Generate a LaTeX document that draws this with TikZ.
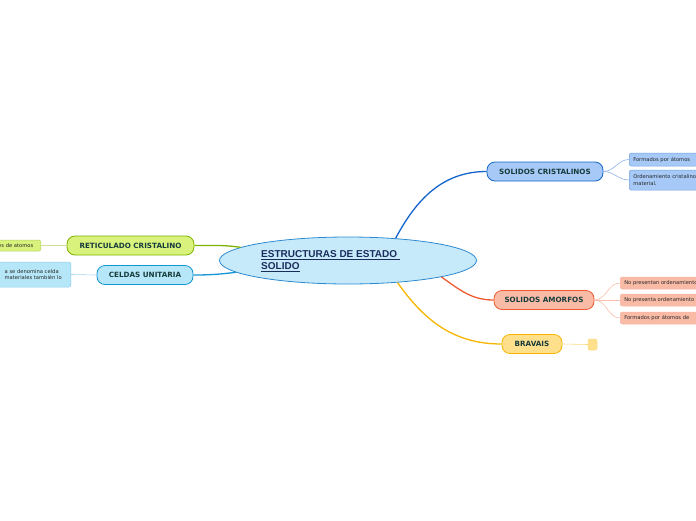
\documentclass[tikz,border=0pt]{standalone}
\usepackage{fontspec}
\setmainfont{DejaVu Sans}
\newfontfamily\rootfont{Liberation Sans}
\usepackage{tikz}
\usetikzlibrary{shapes.geometric}
\definecolor{rootfill}{HTML}{C6EAFA}
\definecolor{rootline}{HTML}{2C8AD2}
\definecolor{roottext}{HTML}{1B2B5C}
\definecolor{topictext}{HTML}{173C3C}
\definecolor{cristalfill}{HTML}{A6C9F7}
\definecolor{cristalline}{HTML}{1464CC}
\definecolor{amorfofill}{HTML}{F9BBA6}
\definecolor{amorfoline}{HTML}{F05A30}
\definecolor{bravaisfill}{HTML}{FDDF8C}
\definecolor{bravaisline}{HTML}{F6B500}
\definecolor{reticfill}{HTML}{D9F27C}
\definecolor{reticline}{HTML}{7CB200}
\definecolor{celdafill}{HTML}{B6E7F8}
\definecolor{celdaline}{HTML}{1496D4}

\tikzset{
  topic/.style={rectangle,rounded corners=8pt,minimum height=19pt,
    font=\fontsize{7.2}{8}\selectfont\bfseries,text=topictext,
    line width=0.8pt,inner sep=2pt},
  leaf/.style={rectangle,rounded corners=2pt,font=\fontsize{5.2}{6.2}\selectfont,
    text=black!85,align=left,inner sep=3pt,line width=0.5pt},
  branch/.style={line width=1.3pt},
  twig/.style={line width=0.6pt}
}

\begin{document}
\begin{tikzpicture}[x=1pt,y=-1pt]
  \clip (0,0) rectangle (696,520);
  % central idea
  \node[ellipse,draw=rootline,fill=rootfill,line width=0.8pt,
        minimum width=257pt,minimum height=47pt] (root) at (348,260.5) {};
  \node[anchor=north west,align=left,inner sep=0pt,text=roottext,
        font=\rootfont\fontsize{10}{12}\selectfont\bfseries] (rootlabel) at (261,250.5)
        {\underline{ESTRUCTURAS DE ESTADO\ }\\\underline{SOLIDO}};

  % main topics
  \node[topic,draw=cristalline,fill=cristalfill,minimum width=116pt] (cristal) at (545,171.5) {SOLIDOS CRISTALINOS};
  \node[topic,draw=amorfoline,fill=amorfofill,minimum width=100pt] (amorfo) at (544,300) {SOLIDOS AMORFOS};
  \node[topic,draw=bravaisline,fill=bravaisfill,minimum width=60pt] (bravais) at (532,344) {BRAVAIS};
  \node[topic,draw=reticline,fill=reticfill,minimum width=127pt] (retic) at (130.5,245.5) {RETICULADO CRISTALINO};
  \node[topic,draw=celdaline,fill=celdafill,minimum width=96pt] (celda) at (145,275) {CELDAS UNITARIA};

  % subtopics
  \node[leaf,anchor=west,draw=cristalline!60,fill=cristalfill,text width=84pt,minimum height=13pt,inner xsep=4pt] (cristalA) at (629,159.5) {Formados por átomos};
  \node[leaf,anchor=west,draw=cristalline!60,fill=cristalfill,text width=84pt,minimum height=20pt,inner xsep=4pt] (cristalB) at (629,180) {Ordenamiento cristalino\\material.};
  \node[leaf,anchor=west,draw=amorfoline!45,fill=amorfofill,text width=84pt,minimum height=12pt,inner xsep=4pt] (amorfoA) at (620,283) {No presentan ordenamiento};
  \node[leaf,anchor=west,draw=amorfoline!45,fill=amorfofill,text width=84pt,minimum height=12pt,inner xsep=4pt] (amorfoB) at (620,300) {No presenta ordenamiento};
  \node[leaf,anchor=west,draw=amorfoline!45,fill=amorfofill,text width=84pt,minimum height=12pt,inner xsep=4pt] (amorfoC) at (620,318) {Formados por átomos de};
  \node[leaf,draw=bravaisline!50,fill=bravaisfill,minimum width=9pt,minimum height=11pt,inner sep=0pt] (bravaisA) at (592.5,344.5) {};
  \node[leaf,anchor=east,draw=reticline!60,fill=reticfill,minimum width=50pt,minimum height=11pt,inner xsep=3pt] (reticA) at (41,245.5) {es de atomos};
  \node[leaf,anchor=east,draw=celdaline!50,fill=celdafill,minimum height=25pt,inner xsep=9pt] (celdaA) at (71,274.5) {a se denomina celda\\materiales también lo};

  % branches
  \draw[branch,cristalline] (root.25) to[out=62,in=180] (cristal.west);
  \draw[branch,amorfoline] (root.-10) to[out=-35,in=180] (amorfo.west);
  \draw[branch,bravaisline] (root.-24) to[out=-55,in=180] (bravais.west);
  \draw[branch,reticline] (root.173.5) to[out=172,in=0] (retic.east);
  \draw[branch,celdaline] (root.186) to[out=187,in=0] (celda.east);

  % twigs
  \draw[twig,cristalline!50] (cristal.east) to[out=0,in=180] (cristalA.west);
  \draw[twig,cristalline!50] (cristal.east) to[out=0,in=180] (cristalB.west);
  \draw[twig,amorfoline!40] (amorfo.east) to[out=0,in=180] (amorfoA.west);
  \draw[twig,amorfoline!40] (amorfo.east) -- (amorfoB.west);
  \draw[twig,amorfoline!40] (amorfo.east) to[out=0,in=180] (amorfoC.west);
  \draw[twig,bravaisline!50] (bravais.east) -- (bravaisA.west);
  \draw[twig,reticline!40] (retic.west) -- (reticA.east);
  \draw[twig,celdaline!40] (celda.west) -- (celdaA.east);
\end{tikzpicture}
\end{document}
